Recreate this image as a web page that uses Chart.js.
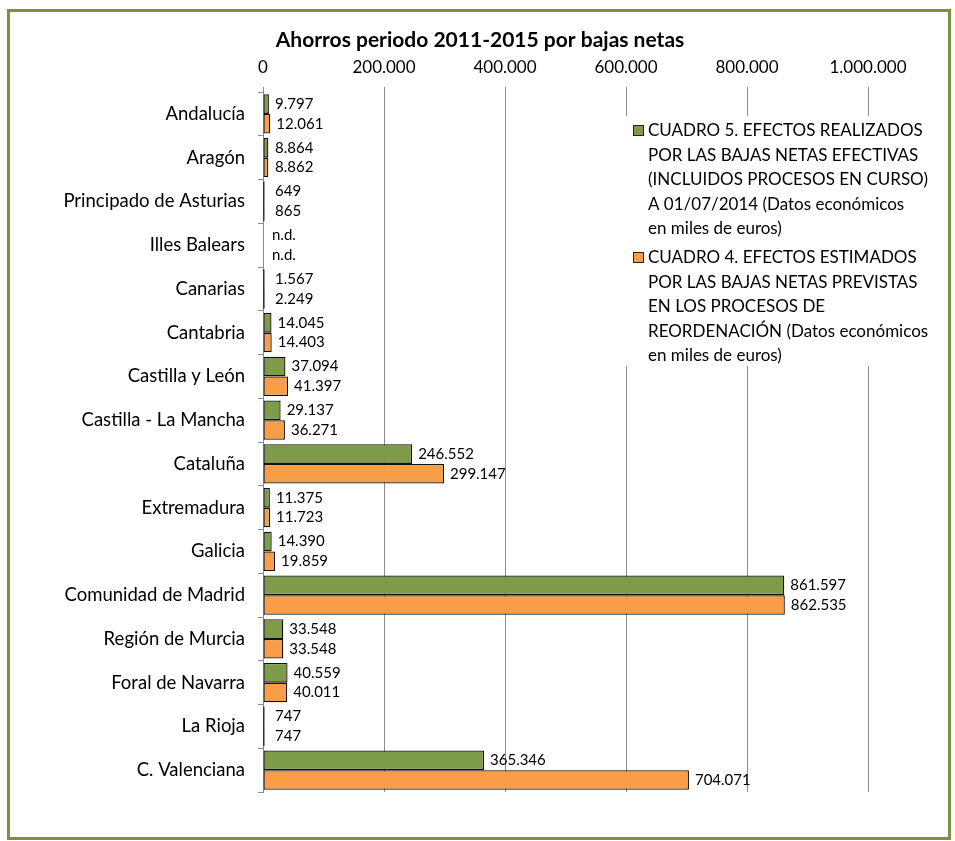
<!DOCTYPE html>
<html>
<head>
<meta charset="utf-8">
<script src="https://cdn.jsdelivr.net/npm/chart.js@4"></script>
<style>
  html, body { margin: 0; padding: 0; background: #fff; }
  #wrap { width: 955px; height: 841px; position: relative; }
</style>
</head>
<body>
<div id="wrap"><canvas id="chart" width="955" height="841"></canvas></div>
<script>
const categories = ["Andalucía", "Aragón", "Principado de Asturias", "Illes Balears", "Canarias",
  "Cantabria", "Castilla y León", "Castilla - La Mancha", "Cataluña", "Extremadura", "Galicia",
  "Comunidad de Madrid", "Región de Murcia", "Foral de Navarra", "La Rioja", "C. Valenciana"];

const realizados = [9797, 8864, 649, null, 1567, 14045, 37094, 29137, 246552, 11375, 14390,
  861597, 33548, 40559, 747, 365346];
const estimados = [12061, 8862, 865, null, 2249, 14403, 41397, 36271, 299147, 11723, 19859,
  862535, 33548, 40011, 747, 704071];

const seriesNames = [
  ["CUADRO 5. EFECTOS REALIZADOS", "POR LAS BAJAS NETAS EFECTIVAS", "(INCLUIDOS PROCESOS EN CURSO)",
    "A 01/07/2014 (Datos económicos", "en miles de euros)"],
  ["CUADRO 4. EFECTOS ESTIMADOS", "POR LAS BAJAS NETAS PREVISTAS", "EN LOS PROCESOS DE",
    "REORDENACIÓN (Datos económicos", "en miles de euros)"]
];
const chartTitle = "Ahorros periodo 2011-2015 por bajas netas";
const xTicks = [0, 200000, 400000, 600000, 800000, 1000000];

const FONT = "Lato, 'Liberation Sans', sans-serif";
const GREEN = "#7E9B48";
const ORANGE = "#F99E47";

function fmt(v) {
  if (v === null || v === undefined) return "n.d.";
  return String(v).replace(/\B(?=(\d{3})+(?!\d))/g, ".");
}

// frame, title, value labels and the boxed legend
const extras = {
  id: "extras",
  beforeDraw(chart) {
    const ctx = chart.ctx;
    ctx.save();
    ctx.strokeStyle = "#77933C";
    ctx.lineWidth = 3;
    ctx.strokeRect(8.5, 10.5, 941, 828);
    ctx.fillStyle = "#000";
    ctx.font = "bold 21px " + FONT;
    ctx.textAlign = "center";
    ctx.textBaseline = "middle";
    ctx.fillText(chartTitle, 480, 40);
    ctx.restore();
  },
  afterDatasetsDraw(chart) {
    const ctx = chart.ctx;
    const x0 = chart.scales.x.getPixelForValue(0);
    ctx.save();
    ctx.font = "15px " + FONT;
    ctx.fillStyle = "#000";
    ctx.textAlign = "left";
    ctx.textBaseline = "middle";
    chart.data.datasets.forEach((ds, i) => {
      const meta = chart.getDatasetMeta(i);
      meta.data.forEach((bar, j) => {
        const v = ds.data[j];
        if (v !== null && bar.x - x0 < 3) {
          // tiny bars still show as a dark sliver
          ctx.fillStyle = "#333";
          ctx.fillRect(x0, bar.y - bar.height / 2, 1.5, bar.height);
          ctx.fillStyle = "#000";
        }
        const x = v === null ? x0 + 9 : Math.max(bar.x + 6, x0 + 12);
        ctx.fillText(fmt(v), x, bar.y);
      });
    });
    ctx.restore();
  },
  afterDraw(chart) {
    const ctx = chart.ctx;
    ctx.save();
    ctx.fillStyle = "#fff";
    ctx.fillRect(620, 116, 328, 250);
    ctx.font = "17px " + FONT;
    ctx.textBaseline = "middle";
    ctx.textAlign = "left";
    const colors = [GREEN, ORANGE];
    let y = 131;
    seriesNames.forEach((lines, i) => {
      ctx.fillStyle = colors[i];
      ctx.fillRect(633, y - 6, 11, 11);
      ctx.strokeStyle = "#222";
      ctx.lineWidth = 1;
      ctx.strokeRect(633.5, y - 5.5, 10, 10);
      ctx.fillStyle = "#000";
      lines.forEach((t, k) => {
        ctx.fillText(t, 648, y + k * 24.5);
      });
      y += 127;
    });
    ctx.restore();
  }
};

new Chart(document.getElementById("chart"), {
  type: "bar",
  data: {
    labels: categories,
    datasets: [
      { label: seriesNames[0].join(" "), data: realizados, backgroundColor: GREEN,
        borderColor: "#111", borderWidth: 1.3, borderSkipped: false },
      { label: seriesNames[1].join(" "), data: estimados, backgroundColor: ORANGE,
        borderColor: "#111", borderWidth: 1.3, borderSkipped: false }
    ]
  },
  options: {
    indexAxis: "y",
    responsive: false,
    animation: false,
    layout: { padding: { left: 0, right: 87, top: 0, bottom: 49 } },
    datasets: { bar: { categoryPercentage: 0.9, barPercentage: 1 } },
    plugins: {
      legend: { display: false },
      title: { display: false },
      tooltip: { enabled: false }
    },
    scales: {
      x: {
        position: "top",
        min: 0,
        max: 1000000,
        afterFit(scale) { scale.height = 92; },
        afterBuildTicks(scale) { scale.ticks = xTicks.map(v => ({ value: v })); },
        grid: { color: "#8c8c8c", tickLength: 5, lineWidth: 1 },
        border: { display: false },
        ticks: {
          padding: 9,
          color: "#000",
          font: { family: FONT, size: 17 },
          maxRotation: 0,
          callback: v => fmt(v)
        }
      },
      y: {
        afterFit(scale) { scale.width = 263; },
        grid: { drawOnChartArea: false, tickLength: 5, color: "#8c8c8c", offset: true },
        border: { color: "#8c8c8c" },
        ticks: {
          padding: 13,
          color: "#000",
          font: { family: FONT, size: 18.5 },
          autoSkip: false
        }
      }
    }
  },
  plugins: [extras]
});
</script>
</body>
</html>
